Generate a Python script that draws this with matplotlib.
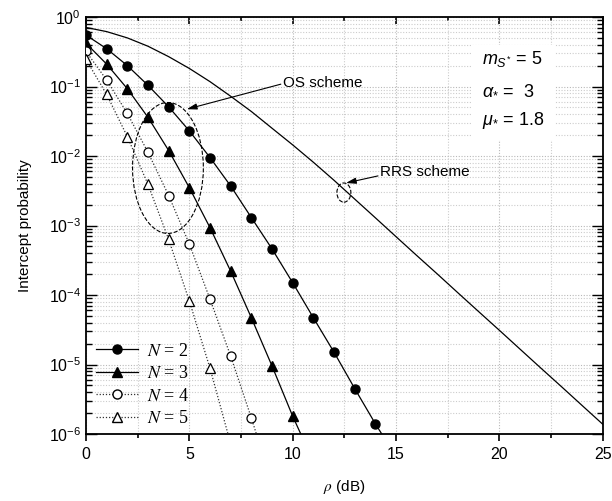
import matplotlib
matplotlib.use('Agg')
import matplotlib.pyplot as plt
from matplotlib.patches import Ellipse, Rectangle
from matplotlib.font_manager import FontProperties
from matplotlib.lines import Line2D
from matplotlib.ticker import LogLocator, MultipleLocator, NullFormatter, FixedLocator

plt.rcParams['font.family'] = ['Liberation Sans', 'DejaVu Sans']
plt.rcParams['mathtext.fontset'] = 'custom'
plt.rcParams['mathtext.rm'] = 'Liberation Sans'
plt.rcParams['mathtext.it'] = 'Liberation Sans:italic'
plt.rcParams['mathtext.sf'] = 'Liberation Sans'

# ---------------- data ----------------
x_n2 = [0, 1, 2, 3, 4, 5, 6, 7, 8, 9, 10, 11, 12, 13, 14]
ip_n2 = [0.55, 0.35, 0.20, 0.104, 0.051, 0.023, 0.0095, 0.0037, 0.0013,
         4.6e-4, 1.5e-4, 4.7e-5, 1.5e-5, 4.5e-6, 1.4e-6]
x_n2_line = x_n2 + [15]
ip_n2_line = ip_n2 + [4.7e-7]

x_n3 = [0, 1, 2, 3, 4, 5, 6, 7, 8, 9, 10]
ip_n3 = [0.42, 0.21, 0.093, 0.036, 0.012, 0.0035, 9.3e-4, 2.2e-4, 4.7e-5,
         9.5e-6, 1.8e-6]
x_n3_line = x_n3 + [11]
ip_n3_line = ip_n3 + [4.0e-7]

x_n4 = [0, 1, 2, 3, 4, 5, 6, 7, 8]
ip_n4 = [0.32, 0.124, 0.041, 0.0113, 0.0027, 5.4e-4, 8.7e-5, 1.32e-5, 1.7e-6]
x_n4_line = x_n4 + [9]
ip_n4_line = ip_n4 + [1.9e-7]

x_n5 = [0, 1, 2, 3, 4, 5, 6]
ip_n5 = [0.245, 0.077, 0.019, 0.0039, 6.3e-4, 8.2e-5, 8.8e-6]
x_n5_line = x_n5 + [7]
ip_n5_line = ip_n5 + [7.2e-7]

x_rrs = list(range(0, 26))
ip_rrs = [0.708, 0.617, 0.501, 0.380, 0.269, 0.182, 0.1175, 0.0724, 0.0437,
          0.0251, 0.01445, 0.00813, 0.00447, 0.0024, 0.00129, 6.9e-4,
          3.7e-4, 2.0e-4, 1.07e-4, 5.75e-5, 3.1e-5, 1.66e-5, 8.9e-6, 4.8e-6,
          2.57e-6, 1.38e-6]

legend_labels = ['$N$ = 2', '$N$ = 3', '$N$ = 4', '$N$ = 5']
x_ticks = [0, 5, 10, 15, 20, 25]
y_ticks = [1e-6, 1e-5, 1e-4, 1e-3, 1e-2, 1e-1, 1e0]

# ---------------- figure ----------------
fig = plt.figure(figsize=(6.12, 5.01), dpi=100)
ax = fig.add_axes([0.1405, 0.1337, 0.8445, 0.8323])

ax.set_yscale('log')
ax.set_xlim(0, 25)
ax.set_ylim(1e-6, 1)

ms = 6.5
dotted = (0, (1, 1.5))
ax.plot(x_rrs, ip_rrs, color='black', lw=0.9, zorder=3)
ax.plot(x_n2_line, ip_n2_line, color='black', lw=0.9, zorder=3)
ax.plot(x_n2, ip_n2, 'o', color='black', ms=ms, zorder=4)
ax.plot(x_n3_line, ip_n3_line, color='black', lw=0.9, zorder=3)
ax.plot(x_n3, ip_n3, '^', color='black', ms=ms + 0.5, zorder=4)
ax.plot(x_n4_line, ip_n4_line, color='#333333', lw=0.9, ls=dotted, zorder=3)
ax.plot(x_n4, ip_n4, 'o', mfc='white', mec='black', mew=0.9, ms=ms, zorder=4)
ax.plot(x_n5_line, ip_n5_line, color='#333333', lw=0.9, ls=dotted, zorder=3)
ax.plot(x_n5, ip_n5, '^', mfc='white', mec='black', mew=0.9, ms=ms + 0.5, zorder=4)

# ticks
ax.set_xticks(x_ticks)
ax.xaxis.set_minor_locator(MultipleLocator(2.5))
ax.xaxis.set_minor_formatter(NullFormatter())
ax.yaxis.set_major_locator(FixedLocator(y_ticks))
ax.yaxis.set_minor_locator(LogLocator(base=10, subs=range(2, 10), numticks=20))
ax.yaxis.set_minor_formatter(NullFormatter())
ax.set_ylim(1e-6, 1)
ax.tick_params(axis='x', which='both', bottom=True, top=True, direction='out',
               labelsize=11.5, width=1.2, pad=4)
ax.tick_params(axis='x', which='major', length=5)
ax.tick_params(axis='x', which='minor', length=3)
ax.tick_params(axis='y', which='both', left=True, right=True, direction='in',
               labelsize=11.5, width=1.0)
ax.tick_params(axis='y', which='major', length=8)
ax.tick_params(axis='y', which='minor', length=4)
for t in ax.xaxis.get_major_ticks() + ax.xaxis.get_minor_ticks():
    t.tick2line.set_marker(matplotlib.lines.TICKDOWN)

for sp in ax.spines.values():
    sp.set_linewidth(1.3)

# grid
ax.grid(True, which='major', axis='both', color='#b8b8b8', ls=(0, (1, 1.5)), lw=0.8)
ax.grid(True, which='minor', axis='both', color='#cccccc', ls=(0, (1, 1.5)), lw=0.8)
ax.set_axisbelow(True)

ax.set_xlabel(r'$\rho$ (dB)', labelpad=12,
              fontproperties=FontProperties(family='Liberation Sans', size=11,
                                            math_fontfamily='stix'))
ax.set_ylabel('Intercept probability', fontsize=11, labelpad=12)

# legend
handles = [
    Line2D([], [], color='black', lw=0.9, marker='o', ms=ms),
    Line2D([], [], color='black', lw=0.9, marker='^', ms=ms + 0.5),
    Line2D([], [], color='#333333', lw=0.9, ls=dotted, marker='o', mfc='white', mec='black', ms=ms),
    Line2D([], [], color='#333333', lw=0.9, ls=dotted, marker='^', mfc='white', mec='black', ms=ms + 0.5),
]
leg = ax.legend(handles, legend_labels, loc='lower left', bbox_to_anchor=(-0.012, -0.022),
                frameon=False, handlelength=2.3, handletextpad=0.5, labelspacing=0.3,
                prop=FontProperties(family='Liberation Serif', size=13, math_fontfamily='stix'))

# parameter box
ax.add_patch(Rectangle((0.747, 0.705), 0.16, 0.228, transform=ax.transAxes,
                       facecolor='white', edgecolor='none', zorder=2))
ax.text(0.766, 0.900, r'$m_{S^{*}}$ = 5', transform=ax.transAxes, fontsize=13,
        va='center', ha='left', zorder=5)
ax.text(0.766, 0.826, r'$\alpha_{*}$ =  3', transform=ax.transAxes, fontsize=13,
        va='center', ha='left', zorder=5)
ax.text(0.766, 0.753, r'$\mu_{*}$ = 1.8', transform=ax.transAxes, fontsize=13,
        va='center', ha='left', zorder=5)

# annotations
ax.add_patch(Ellipse((0.1586, 0.638), 0.137, 0.314, transform=ax.transAxes,
                     fill=False, ls='--', lw=0.8, edgecolor='black', zorder=5))
ax.add_patch(Ellipse((0.499, 0.579), 0.027, 0.046, transform=ax.transAxes,
                     fill=False, ls='--', lw=0.8, edgecolor='black', zorder=5))
ax.annotate('', xy=(0.195, 0.779), xytext=(0.377, 0.839), xycoords='axes fraction',
            arrowprops=dict(arrowstyle='-|>,head_length=0.6,head_width=0.18',
                            color='black', lw=0.8, shrinkA=0, shrinkB=0), zorder=6)
ax.text(0.381, 0.842, 'OS scheme', transform=ax.transAxes, fontsize=11,
        va='center', ha='left', zorder=6)
ax.annotate('', xy=(0.503, 0.602), xytext=(0.565, 0.619), xycoords='axes fraction',
            arrowprops=dict(arrowstyle='-|>,head_length=0.6,head_width=0.18',
                            color='black', lw=0.8, shrinkA=0, shrinkB=0), zorder=6)
ax.text(0.569, 0.628, 'RRS scheme', transform=ax.transAxes, fontsize=11,
        va='center', ha='left', zorder=6)

fig.savefig('out.png', dpi=100)
